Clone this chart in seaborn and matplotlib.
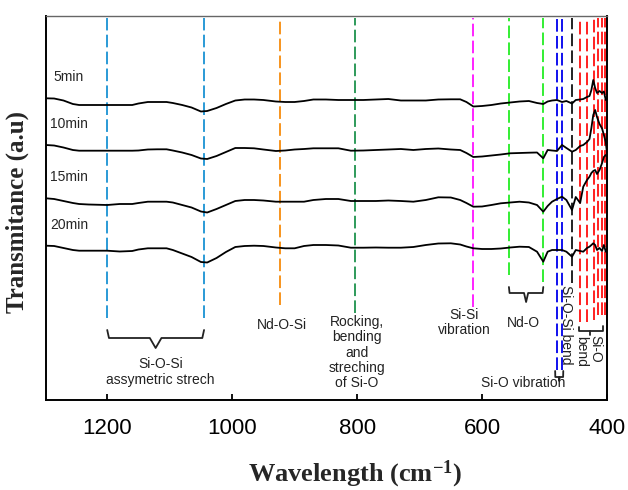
import numpy as np
import pandas as pd
import seaborn as sns
import matplotlib.pyplot as plt

# wavenumber grid (cm-1) and the four spectra (a.u., already offset)
wavenumber = [1298, 1285, 1270, 1255, 1245, 1230, 1200, 1180, 1160, 1150, 1135, 1120,
              1105, 1095, 1080, 1065, 1050, 1040, 1025, 1010, 995, 980, 965, 950,
              930, 915, 900, 885, 870, 850, 830, 810, 790, 770, 750, 730, 710, 690,
              670, 650, 635, 625, 614, 600, 585, 570, 555, 540, 525, 512, 502, 495,
              488, 480, 472, 465, 456, 450, 443, 438, 432, 428, 425, 422, 419, 416,
              412, 408, 405, 402, 400]

t_5min = [301.7, 301.5, 299.5, 296, 295, 295, 295, 295, 295, 296.5, 298, 298,
          298, 297, 295, 292.5, 288.5, 289, 292, 296, 299.5, 300.5, 300.5, 300,
          298.5, 298, 298, 299, 300.5, 300.5, 300, 300, 300, 300.5, 301, 299.5, 299.5, 299.5,
          300.5, 300.7, 300.7, 298, 293.5, 294, 295, 296.5, 297.5, 298.5, 299, 297, 296, 298.5,
          299.5, 300, 298, 299, 296.5, 300, 300.5, 301, 303, 304, 310, 320, 312, 307,
          309, 307, 308.5, 300, 301]

t_10min = [255, 254.5, 252.5, 250, 249.3, 249.3, 249.3, 249.3, 249.3, 249.5, 250.5, 250.7,
           250.7, 249.5, 247.5, 245, 241.5, 241, 244, 248, 252, 252, 251.7, 250.5,
           249, 249.5, 250.5, 251, 251.7, 251.7, 251.7, 249.3, 249.5, 250, 250.5, 251, 250, 251,
           251.5, 250.5, 250, 247, 243, 243.5, 244.5, 245.5, 246.7, 247, 247.3, 247.5, 241.7, 250,
           249.5, 249, 255, 252, 248.3, 250, 254, 255, 258, 261, 272, 285, 290, 283,
           276, 271.7, 265, 258, 247]

t_15min = [201.7, 201, 199, 197, 196, 195.5, 195, 196, 196, 197, 198.3, 198.3,
           198.3, 197.5, 195, 192.5, 188.5, 187.5, 191, 195, 199, 200, 200, 199.5,
           198.3, 198.3, 198.3, 198.3, 200, 201, 201, 199, 199, 199, 199.5, 199, 198.3, 200,
           202.7, 202.5, 200, 197, 193.3, 193.5, 195, 196.7, 197.5, 198.3, 197.5, 195, 188.3, 194,
           198.3, 201, 203.3, 200, 190, 203, 197, 213.3, 220, 223.3, 227, 229, 230, 226,
           230, 236.7, 243, 245, 244]

t_20min = [154.3, 154, 152, 150, 149.3, 149.3, 149.3, 148.5, 149, 150.5, 151.7, 151.7,
           151.7, 150, 146.5, 143, 138, 137.5, 142, 148, 153, 154, 154.3, 154,
           152.5, 151.7, 151.7, 154, 155, 155, 154.5, 152.3, 152.3, 152.5, 152.3, 152.3, 153, 155,
           156.5, 156.7, 155.5, 153.5, 151.7, 151, 151, 151.5, 152.5, 153.3, 153, 148.3, 138.3, 148.3,
           150, 150, 150, 148.3, 143.3, 150, 149, 148.3, 152, 153.3, 155, 156.7, 155, 150,
           152, 149, 155, 148.3, 150]

series_names = ['5min', '10min', '15min', '20min']

# assigned band positions (cm-1)
band_positions = [1200, 1045, 924, 803, 615, 557, 502, 480, 472, 456.5,
                  443, 432, 421, 414, 408, 404]
band_colors = ['#2a9ad6', '#2a9ad6', '#f7941d', '#2e9a5a', '#ff22ff', '#33ee33', '#33ee33',
               '#1010ee', '#1010ee', '#222222', '#ff2020', '#ff2020', '#ff2020', '#ff2020',
               '#ff2020', '#ff2020']
band_bottoms = [82, 82, 95, 87, 93, 125, 118, 30, 30, 117, 78, 78, 80, 85, 85, 85]

df = pd.concat([
    pd.DataFrame({'wavenumber': wavenumber, 'T': vals, 'time': name})
    for name, vals in zip(series_names, [t_5min, t_10min, t_15min, t_20min])
], ignore_index=True)

sns.set_theme(style='white')
plt.rcParams['font.family'] = ['Liberation Sans', 'DejaVu Sans']
plt.rcParams['mathtext.fontset'] = 'custom'
plt.rcParams['mathtext.rm'] = 'Liberation Serif:bold'
plt.rcParams['mathtext.it'] = 'Liberation Serif:bold'

fig = plt.figure(figsize=(6.28, 4.9), dpi=100)
ax = fig.add_axes([46 / 628, 90 / 490, 561 / 628, 384 / 490])

# band marker lines
for pos, col, bot in zip(band_positions, band_colors, band_bottoms):
    ax.plot([pos, pos], [bot, 382], color=col, lw=1.4, ls=(0, (6.5, 2.2)), zorder=1)

sns.lineplot(data=df, x='wavenumber', y='T', hue='time', palette=['black'] * 4,
             estimator=None, sort=False, legend=False, lw=1.3, ax=ax, zorder=3)

# series labels
for name, vals in zip(series_names, [t_5min, t_10min, t_15min, t_20min]):
    ax.annotate(name, (wavenumber[0], vals[0]), xytext=(5 if name == '5min' else 3, 10),
                textcoords='offset points', fontsize=10, va='bottom', ha='left')


def brace(x0, x1, y, h, tip):
    xm = (x0 + x1) / 2
    d = abs(x1 - x0) * 0.06
    s = np.sign(x1 - x0)
    xs = [x0, x0 + s * d * 0.3, xm - s * d, xm, xm + s * d, x1 - s * d * 0.3, x1]
    ys = [y + h, y, y, y - tip, y, y, y + h]
    ax.plot(xs, ys, color='#222222', lw=1.3, zorder=2)


brace(1200, 1045, 62, 8, 10)
brace(557, 502, 107, 6, 9)
brace(483, 470, 23, 6, 4)
# bracket under the red bands
ax.plot([445, 445, 406, 406], [73, 69, 69, 74], color='#222222', lw=1.3)
ax.plot([427, 427], [69, 65], color='#222222', lw=1.3)

txt = dict(fontsize=10, color='#222222', ha='center', va='center', linespacing=1.1)
ax.text(1115, 28, 'Si-O-Si\nassymetric strech', **txt)
ax.text(920, 75, 'Nd-O-Si', **txt)
ax.text(800, 47.5, 'Rocking,\nbending\nand\nstreching\nof Si-O', **txt)
ax.text(629, 77.5, 'Si-Si\nvibration', **txt)
ax.text(534, 77, 'Nd-O', **txt)
ax.text(534, 17, 'Si-O vibration', **txt)
ax.text(466, 75, 'Si-O-Si bend', rotation=270, **txt)
ax.text(442, 49, 'bend', rotation=270, **txt)
ax.text(418, 51, 'Si-O', rotation=270, **txt)

ax.set_xlim(1298, 400)
ax.set_ylim(0, 384)
ax.set_xticks([1200, 1000, 800, 600, 400])
ax.set_yticks([])
ax.tick_params(axis='x', direction='in', length=4, width=1.3, labelsize=16, pad=13,
               bottom=True, colors='black')
for side in ['left', 'bottom', 'right']:
    ax.spines[side].set_color('black')
    ax.spines[side].set_linewidth(1.4)
ax.spines['top'].set_color('#666666')
ax.spines['top'].set_linewidth(1.0)

ax.set_xlabel('Wavelength (cm$^{-1}$)', fontsize=19, fontweight='bold',
              family='Liberation Serif')
ax.xaxis.set_label_coords((355 - 46) / 561, -0.153)
ax.set_ylabel('Transmitance (a.u)', fontsize=18, fontweight='bold',
              family='Liberation Serif')
ax.yaxis.set_label_coords(-0.031, 0.49)

fig.savefig('out.png', dpi=100)
